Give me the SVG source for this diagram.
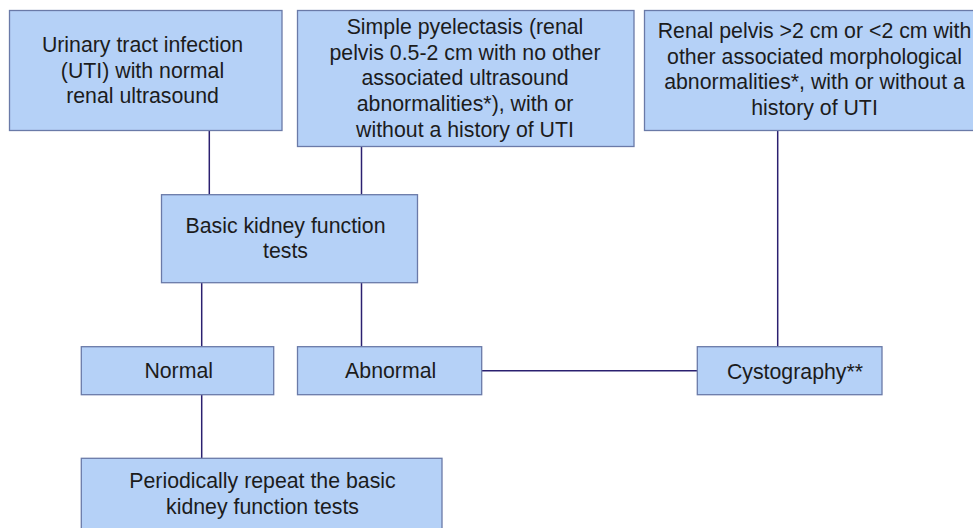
<svg xmlns="http://www.w3.org/2000/svg" width="973" height="528" viewBox="0 0 973 528">
<style>
.box{fill:#b5d1f7;stroke:#6a7aa8;stroke-width:1.3}
.t{font-family:"Liberation Sans",Arial,sans-serif;font-size:21.3px;fill:#1c1c1c;text-anchor:middle}
.c{stroke:#2b2070;stroke-width:1.5;fill:none}
</style>
<rect width="973" height="528" fill="#fff"/>
<g id="connectors">
<line class="c" x1="209.3" y1="130.5" x2="209.3" y2="194.7"/>
<line class="c" x1="361.5" y1="146.7" x2="361.5" y2="194.7"/>
<line class="c" x1="201.7" y1="282.7" x2="201.7" y2="346.7"/>
<line class="c" x1="361.5" y1="282.7" x2="361.5" y2="346.7"/>
<line class="c" x1="481.7" y1="370.7" x2="697.3" y2="370.7"/>
<line class="c" x1="777.7" y1="130.7" x2="777.7" y2="346.7"/>
<line class="c" x1="201.7" y1="394.7" x2="201.7" y2="458.3"/>
</g>
<g id="uti">
<rect class="box" x="9.5" y="10.5" width="272.5" height="120"/>
<text class="t" x="142.5" y="52">Urinary tract infection</text>
<text class="t" x="142.5" y="77.5">(UTI) with normal</text>
<text class="t" x="142.5" y="102.5">renal ultrasound</text>
</g>
<g id="pyelectasis">
<rect class="box" x="297.5" y="10.5" width="336.5" height="136"/>
<text class="t" x="465" y="34">Simple pyelectasis (renal</text>
<text class="t" x="465" y="59.7">pelvis 0.5-2 cm with no other</text>
<text class="t" x="465" y="85.4">associated ultrasound</text>
<text class="t" x="465" y="111">abnormalities*), with or</text>
<text class="t" x="465" y="136.7">without a history of UTI</text>
</g>
<g id="renal-pelvis">
<rect class="box" x="644.5" y="10.5" width="330" height="120"/>
<text class="t" x="814.5" y="38.3">Renal pelvis &gt;2 cm or &lt;2 cm with</text>
<text class="t" x="814.5" y="63.9">other associated morphological</text>
<text class="t" x="814.5" y="89.4">abnormalities*, with or without a</text>
<text class="t" x="814.5" y="115">history of UTI</text>
</g>
<g id="basic">
<rect class="box" x="161.5" y="194.7" width="256" height="88"/>
<text class="t" x="285.5" y="232.7">Basic kidney function</text>
<text class="t" x="285.5" y="257.5">tests</text>
</g>
<g id="normal">
<rect class="box" x="81.3" y="346.7" width="192.4" height="48"/>
<text class="t" x="178.7" y="377.5">Normal</text>
</g>
<g id="abnormal">
<rect class="box" x="297.5" y="346.7" width="184.2" height="48"/>
<text class="t" x="390.7" y="377.5">Abnormal</text>
</g>
<g id="cystography">
<rect class="box" x="697.3" y="346.7" width="184.7" height="48"/>
<text class="t" x="795" y="379">Cystography**</text>
</g>
<g id="periodic">
<rect class="box" x="81.3" y="458.3" width="360.7" height="75"/>
<text class="t" x="262.5" y="488.3">Periodically repeat the basic</text>
<text class="t" x="262.5" y="513.5">kidney function tests</text>
</g>
</svg>
